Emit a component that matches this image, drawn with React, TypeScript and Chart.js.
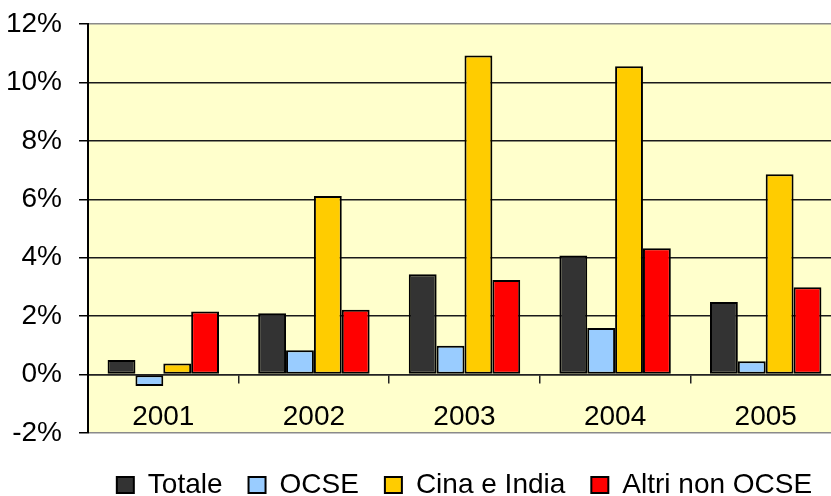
import React, { useEffect, useRef } from 'react';
import { Chart, registerables } from 'chart.js';

Chart.register(...registerables);

const categories = ['2001', '2002', '2003', '2004', '2005'];
const seriesNames = ['Totale', 'OCSE', 'Cina e India', 'Altri non OCSE'];
const totale = [0.5, 2.1, 3.43, 4.08, 2.48];
const ocse = [-0.39, 0.83, 0.99, 1.59, 0.46];
const cinaIndia = [0.38, 6.11, 10.92, 10.55, 6.86];
const altriNonOcse = [2.16, 2.22, 3.24, 4.32, 2.99];
const seriesColors = ['#333333', '#99CCFF', '#FFCC00', '#FF0000'];
const yMin = -2;
const yMax = 12;
const yStep = 2;

const FONT = "'Liberation Sans', Arial, Helvetica, sans-serif";

const plotBg = {
  id: 'plotBg',
  beforeDraw(chart: any) {
    const { ctx, chartArea } = chart;
    if (!chartArea) return;
    ctx.save();
    ctx.fillStyle = '#FFFFCC';
    ctx.fillRect(chartArea.left, chartArea.top, chartArea.right - chartArea.left, chartArea.bottom - chartArea.top);
    ctx.restore();
  },
};

export default function App() {
  const ref = useRef<HTMLCanvasElement | null>(null);

  useEffect(() => {
    if (!ref.current) return;
    const seriesData = [totale, ocse, cinaIndia, altriNonOcse];
    const chart = new Chart(ref.current, {
      type: 'bar',
      data: {
        labels: categories,
        datasets: seriesNames.map((name, i) => ({
          label: name,
          data: seriesData[i],
          backgroundColor: seriesColors[i],
          borderColor: '#000000',
          borderWidth: 2,
          borderSkipped: false,
          categoryPercentage: 0.74,
          barPercentage: 1,
        })),
      },
      options: {
        responsive: false,
        animation: false,
        layout: { padding: { top: 24, left: 0, right: 9, bottom: 0 } },
        plugins: {
          tooltip: { enabled: false },
          legend: {
            position: 'bottom',
            fullSize: false,
            title: { display: true, text: ' ', font: { size: 12, lineHeight: 1 }, padding: 0 },
            labels: {
              boxWidth: 17,
              boxHeight: 16,
              padding: 26,
              color: '#000',
              font: { size: 28, family: FONT },
            },
          },
        },
        scales: {
          x: {
            type: 'category',
            position: { y: 0 } as any,
            offset: true,
            grid: {
              drawOnChartArea: false,
              drawTicks: true,
              tickLength: 8,
              color: '#222',
              lineWidth: 1.5,
              offset: true,
            },
            border: { display: true, color: '#222', width: 1.5 },
            ticks: {
              font: { size: 28, family: FONT },
              color: '#000',
              padding: 18,
              maxRotation: 0,
              autoSkip: false,
            },
            afterFit: (s: any) => {
              s.height = 0;
              s.paddingLeft = 0;
              s.paddingRight = 0;
            },
          },
          y: {
            min: yMin,
            max: yMax,
            ticks: {
              stepSize: yStep,
              font: { size: 28, family: FONT },
              color: '#000',
              padding: 17,
              callback: (v: any) => `${v}%`,
            },
            grid: {
              color: (c: any) =>
                c.tick && (c.tick.value === yMax || c.tick.value === yMin) ? '#8a8a8a' : '#1a1a1a',
              lineWidth: 1.5,
              tickColor: '#000',
              tickLength: 9,
            },
            border: { color: '#000', width: 2 },
            afterFit: (s: any) => {
              s.width = 88;
              s.paddingTop = 0;
              s.paddingBottom = 0;
            },
          },
        },
      },
      plugins: [plotBg],
    });
    return () => chart.destroy();
  }, []);

  return (
    <div
      style={{
        position: 'absolute',
        left: 0,
        top: 0,
        width: 831,
        height: 496,
        overflow: 'hidden',
        background: '#fff',
      }}
    >
      <canvas ref={ref} width={850} height={509} style={{ display: 'block' }} />
    </div>
  );
}
